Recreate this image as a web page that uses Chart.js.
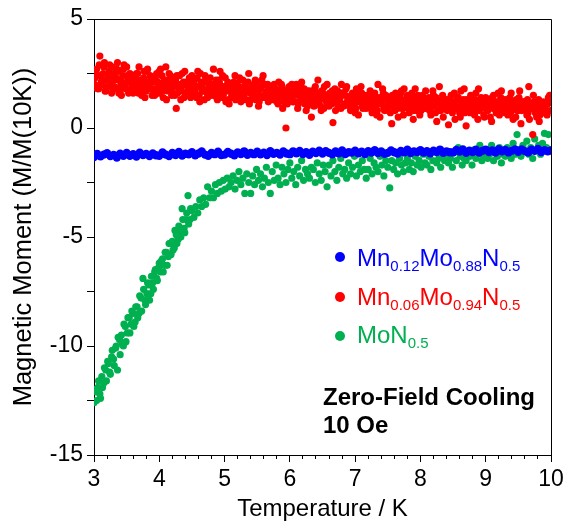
<!DOCTYPE html>
<html>
<head>
<meta charset="utf-8">
<script src="https://cdn.jsdelivr.net/npm/chart.js@4.4.1/dist/chart.umd.min.js"></script>
<style>
  html, body { margin: 0; padding: 0; background: #fff; }
  #wrap { position: relative; width: 565px; height: 529px; font-family: "Liberation Sans", Arial, sans-serif; }
  canvas { display: block; }
  .leg { position: absolute; left: 357px; font-size: 24px; line-height: 24px; white-space: nowrap; }
  .leg .s { font-size: 15px; vertical-align: -5px; line-height: 0; }
  .dot { position: absolute; left: 335px; width: 10px; height: 10px; border-radius: 50%; }
  .note { position: absolute; left: 323px; top: 383px; font-size: 24px; line-height: 28px; font-weight: bold; color: #000; white-space: nowrap; }
</style>
</head>
<body>
<div id="wrap">
  <canvas id="c" width="565" height="529"></canvas>
  <span class="dot" style="top:252px;background:#0000FF"></span>
  <div class="leg" style="top:246px;color:#0000FF">Mn<span class="s">0.12</span>Mo<span class="s">0.88</span>N<span class="s">0.5</span></div>
  <span class="dot" style="top:292px;background:#FF0000"></span>
  <div class="leg" style="top:285px;color:#FF0000">Mn<span class="s">0.06</span>Mo<span class="s">0.94</span>N<span class="s">0.5</span></div>
  <span class="dot" style="top:331px;background:#00B050"></span>
  <div class="leg" style="top:323px;color:#00B050">MoN<span class="s">0.5</span></div>
  <div class="note">Zero-Field Cooling<br>10 Oe</div>
</div>
<script>
// Temperature (K), three interleaved sweeps
const tempA = [
  3.00,3.03,3.06,3.09,3.12,3.15,3.18,3.21,3.24,3.27,
  3.30,3.33,3.36,3.39,3.42,3.45,3.48,3.51,3.54,3.57,
  3.60,3.63,3.66,3.69,3.72,3.75,3.78,3.81,3.84,3.87,
  3.90,3.93,3.96,3.99,4.02,4.05,4.08,4.11,4.14,4.17,
  4.20,4.23,4.26,4.29,4.32,4.35,4.38,4.41,4.44,4.47,
  4.50,4.53,4.56,4.59,4.62,4.65,4.68,4.71,4.74,4.77,
  4.80,4.83,4.86,4.89,4.92,4.95,4.98,5.01,5.04,5.07,
  5.10,5.13,5.16,5.19,5.22,5.25,5.28,5.31,5.34,5.37,
  5.40,5.43,5.46,5.49,5.52,5.55,5.58,5.61,5.64,5.67,
  5.70,5.73,5.76,5.79,5.82,5.85,5.88,5.91,5.94,5.97,
  6.00,6.03,6.06,6.09,6.12,6.15,6.18,6.21,6.24,6.27,
  6.30,6.33,6.36,6.39,6.42,6.45,6.48,6.51,6.54,6.57,
  6.60,6.63,6.66,6.69,6.72,6.75,6.78,6.81,6.84,6.87,
  6.90,6.93,6.96,6.99,7.02,7.05,7.08,7.11,7.14,7.17,
  7.20,7.23,7.26,7.29,7.32,7.35,7.38,7.41,7.44,7.47,
  7.50,7.53,7.56,7.59,7.62,7.65,7.68,7.71,7.74,7.77,
  7.80,7.83,7.86,7.89,7.92,7.95,7.98,8.01,8.04,8.07,
  8.10,8.13,8.16,8.19,8.22,8.25,8.28,8.31,8.34,8.37,
  8.40,8.43,8.46,8.49,8.52,8.55,8.58,8.61,8.64,8.67,
  8.70,8.73,8.76,8.79,8.82,8.85,8.88,8.91,8.94,8.97,
  9.00,9.03,9.06,9.09,9.12,9.15,9.18,9.21,9.24,9.27,
  9.30,9.33,9.36,9.39,9.42,9.45,9.48,9.51,9.54,9.57,
  9.60,9.63,9.66,9.69,9.72,9.75,9.78,9.81,9.84,9.87,
  9.90,9.93,9.96,9.99
];
const tempB = [
  3.01,3.04,3.07,3.10,3.13,3.16,3.19,3.22,3.25,3.28,
  3.31,3.34,3.37,3.40,3.43,3.46,3.49,3.52,3.55,3.58,
  3.61,3.64,3.67,3.70,3.73,3.76,3.79,3.82,3.85,3.88,
  3.91,3.94,3.97,4.00,4.03,4.06,4.09,4.12,4.15,4.18,
  4.21,4.24,4.27,4.30,4.33,4.36,4.39,4.42,4.45,4.48,
  4.51,4.54,4.57,4.60,4.63,4.66,4.69,4.72,4.75,4.78,
  4.81,4.84,4.87,4.90,4.93,4.96,4.99,5.02,5.05,5.08,
  5.11,5.14,5.17,5.20,5.23,5.26,5.29,5.32,5.35,5.38,
  5.41,5.44,5.47,5.50,5.53,5.56,5.59,5.62,5.65,5.68,
  5.71,5.74,5.77,5.80,5.83,5.86,5.89,5.92,5.95,5.98,
  6.01,6.04,6.07,6.10,6.13,6.16,6.19,6.22,6.25,6.28,
  6.31,6.34,6.37,6.40,6.43,6.46,6.49,6.52,6.55,6.58,
  6.61,6.64,6.67,6.70,6.73,6.76,6.79,6.82,6.85,6.88,
  6.91,6.94,6.97,7.00,7.03,7.06,7.09,7.12,7.15,7.18,
  7.21,7.24,7.27,7.30,7.33,7.36,7.39,7.42,7.45,7.48,
  7.51,7.54,7.57,7.60,7.63,7.66,7.69,7.72,7.75,7.78,
  7.81,7.84,7.87,7.90,7.93,7.96,7.99,8.02,8.05,8.08,
  8.11,8.14,8.17,8.20,8.23,8.26,8.29,8.32,8.35,8.38,
  8.41,8.44,8.47,8.50,8.53,8.56,8.59,8.62,8.65,8.68,
  8.71,8.74,8.77,8.80,8.83,8.86,8.89,8.92,8.95,8.98,
  9.01,9.04,9.07,9.10,9.13,9.16,9.19,9.22,9.25,9.28,
  9.31,9.34,9.37,9.40,9.43,9.46,9.49,9.52,9.55,9.58,
  9.61,9.64,9.67,9.70,9.73,9.76,9.79,9.82,9.85,9.88,
  9.91,9.94,9.97
];
const tempC = [
  3.02,3.05,3.08,3.11,3.14,3.17,3.20,3.23,3.26,3.29,
  3.32,3.35,3.38,3.41,3.44,3.47,3.50,3.53,3.56,3.59,
  3.62,3.65,3.68,3.71,3.74,3.77,3.80,3.83,3.86,3.89,
  3.92,3.95,3.98,4.01,4.04,4.07,4.10,4.13,4.16,4.19,
  4.22,4.25,4.28,4.31,4.34,4.37,4.40,4.43,4.46,4.49,
  4.52,4.55,4.58,4.61,4.64,4.67,4.70,4.73,4.76,4.79,
  4.82,4.85,4.88,4.91,4.94,4.97,5.00,5.03,5.06,5.09,
  5.12,5.15,5.18,5.21,5.24,5.27,5.30,5.33,5.36,5.39,
  5.42,5.45,5.48,5.51,5.54,5.57,5.60,5.63,5.66,5.69,
  5.72,5.75,5.78,5.81,5.84,5.87,5.90,5.93,5.96,5.99,
  6.02,6.05,6.08,6.11,6.14,6.17,6.20,6.23,6.26,6.29,
  6.32,6.35,6.38,6.41,6.44,6.47,6.50,6.53,6.56,6.59,
  6.62,6.65,6.68,6.71,6.74,6.77,6.80,6.83,6.86,6.89,
  6.92,6.95,6.98,7.01,7.04,7.07,7.10,7.13,7.16,7.19,
  7.22,7.25,7.28,7.31,7.34,7.37,7.40,7.43,7.46,7.49,
  7.52,7.55,7.58,7.61,7.64,7.67,7.70,7.73,7.76,7.79,
  7.82,7.85,7.88,7.91,7.94,7.97,8.00,8.03,8.06,8.09,
  8.12,8.15,8.18,8.21,8.24,8.27,8.30,8.33,8.36,8.39,
  8.42,8.45,8.48,8.51,8.54,8.57,8.60,8.63,8.66,8.69,
  8.72,8.75,8.78,8.81,8.84,8.87,8.90,8.93,8.96,8.99,
  9.02,9.05,9.08,9.11,9.14,9.17,9.20,9.23,9.26,9.29,
  9.32,9.35,9.38,9.41,9.44,9.47,9.50,9.53,9.56,9.59,
  9.62,9.65,9.68,9.71,9.74,9.77,9.80,9.83,9.86,9.89,
  9.92,9.95,9.98
];

// Temperature (K) for the blue series
const tempBlue = [
  3.00,3.05,3.10,3.15,3.20,3.25,3.30,3.35,3.40,3.45,
  3.50,3.55,3.60,3.65,3.70,3.75,3.80,3.85,3.90,3.95,
  4.00,4.05,4.10,4.15,4.20,4.25,4.30,4.35,4.40,4.45,
  4.50,4.55,4.60,4.65,4.70,4.75,4.80,4.85,4.90,4.95,
  5.00,5.05,5.10,5.15,5.20,5.25,5.30,5.35,5.40,5.45,
  5.50,5.55,5.60,5.65,5.70,5.75,5.80,5.85,5.90,5.95,
  6.00,6.05,6.10,6.15,6.20,6.25,6.30,6.35,6.40,6.45,
  6.50,6.55,6.60,6.65,6.70,6.75,6.80,6.85,6.90,6.95,
  7.00,7.05,7.10,7.15,7.20,7.25,7.30,7.35,7.40,7.45,
  7.50,7.55,7.60,7.65,7.70,7.75,7.80,7.85,7.90,7.95,
  8.00,8.05,8.10,8.15,8.20,8.25,8.30,8.35,8.40,8.45,
  8.50,8.55,8.60,8.65,8.70,8.75,8.80,8.85,8.90,8.95,
  9.00,9.05,9.10,9.15,9.20,9.25,9.30,9.35,9.40,9.45,
  9.50,9.55,9.60,9.65,9.70,9.75,9.80,9.85,9.90,9.95,
  10.00
];

// Mn0.12Mo0.88N0.5 (blue)
const momentBlue = [
  -1.33,-1.19,-1.30,-1.22,-1.16,-1.29,-1.24,-1.35,-1.18,-1.27,
  -1.15,-1.28,-1.20,-1.31,-1.13,-1.24,-1.19,-1.29,-1.17,-1.25,
  -1.27,-1.12,-1.22,-1.29,-1.15,-1.24,-1.10,-1.26,-1.18,-1.21,
  -1.11,-1.25,-1.17,-1.08,-1.22,-1.27,-1.14,-1.20,-1.09,-1.24,
  -1.22,-1.10,-1.18,-1.25,-1.12,-1.19,-1.07,-1.23,-1.15,-1.20,
  -1.09,-1.21,-1.13,-1.24,-1.06,-1.18,-1.14,-1.22,-1.08,-1.17,
  -1.20,-1.07,-1.16,-1.05,-1.19,-1.11,-1.23,-1.09,-1.15,-1.04,
  -1.17,-1.06,-1.14,-1.21,-1.08,-1.16,-1.03,-1.19,-1.11,-1.13,
  -1.04,-1.16,-1.09,-1.19,-1.06,-1.13,-1.02,-1.15,-1.08,-1.18,
  -1.14,-1.03,-1.11,-1.17,-1.05,-1.12,-1.00,-1.15,-1.07,-1.10,
  -1.02,-1.13,-1.06,-1.16,-1.04,-1.10,-0.99,-1.14,-1.07,-1.11,
  -1.12,-1.01,-1.08,-0.98,-1.14,-1.04,-1.10,-1.00,-1.13,-1.05,
  -0.99,-1.10,-1.03,-1.13,-0.97,-1.07,-1.01,-1.12,-1.04,-0.98,
  -1.09,-0.98,-1.06,-1.12,-1.00,-1.05,-0.96,-1.10,-1.02,-1.07,
  -1.03
];

// Mn0.06Mo0.94N0.5 (red), sweeps A, B, C
const momentRedA = [
  2.6,1.9,2.4,3.3,2.0,2.8,1.7,2.3,2.9,1.6,
  2.5,1.8,3.0,2.2,1.5,2.7,2.0,2.4,1.7,2.3,
  1.6,2.4,2.1,2.8,1.8,2.2,1.4,2.6,1.9,2.3,
  2.1,1.5,2.5,1.9,2.7,1.7,2.2,1.3,2.0,2.4,
  1.6,2.3,0.9,2.0,1.8,2.5,1.4,2.1,1.7,2.2,
  2.4,1.5,1.9,2.6,1.2,2.0,1.7,2.2,1.4,1.9,
  1.6,2.7,1.8,1.3,2.1,1.9,1.5,2.3,1.7,1.1,
  2.0,1.4,2.4,1.7,1.9,1.2,2.2,1.6,1.8,2.5,
  1.3,1.9,1.5,2.1,1.0,1.8,1.4,2.0,1.6,1.2,
  1.8,1.3,2.0,1.5,1.1,1.7,1.9,1.2,0.0,1.6,
  1.4,2.0,1.2,1.7,0.9,1.5,2.1,1.3,1.6,1.0,
  1.7,0.5,1.4,1.9,1.1,1.5,0.8,1.6,1.3,2.0,
  1.0,1.5,0.25,1.8,1.2,1.4,0.9,1.6,1.1,1.9,
  1.4,0.8,1.6,1.1,1.8,0.6,1.3,1.0,1.5,0.9,
  1.2,1.7,0.7,1.4,1.0,2.0,0.5,1.3,0.9,1.5,
  0.8,1.4,0.2,1.2,1.6,0.9,1.1,1.7,0.6,1.3,
  1.5,0.7,1.2,0.4,1.8,1.0,1.3,0.8,1.4,1.1,
  0.9,1.4,0.6,1.7,1.1,0.3,1.2,0.8,1.5,1.0,
  1.3,0.15,1.1,0.7,1.6,0.9,1.4,0.5,1.2,1.8,
  0.1,1.1,0.7,1.3,0.9,1.6,0.4,1.0,1.2,0.6,
  1.4,0.8,1.1,0.3,1.5,0.9,1.2,0.6,1.7,1.0,
  0.7,1.3,0.9,1.6,0.4,1.1,0.8,1.4,0.2,1.0,
  1.2,0.6,1.9,0.9,-0.3,1.1,0.5,1.3,0.8,1.0,
  0.7,1.1,1.4,0.8
];
const momentRedB = [
  2.0,2.7,1.8,2.4,2.2,3.0,1.9,2.5,2.1,2.8,
  1.9,2.3,2.6,1.7,2.1,2.9,1.8,2.2,2.5,2.0,
  2.2,1.7,2.5,2.0,1.5,2.3,1.9,2.7,1.8,2.1,
  1.8,2.3,1.6,2.6,2.0,1.4,2.2,1.9,2.5,1.7,
  2.1,1.5,2.4,1.8,1.3,2.0,2.6,1.6,1.9,1.4,
  1.6,2.2,1.4,1.9,2.5,1.7,1.3,2.1,1.8,2.3,
  2.0,1.5,2.2,1.7,2.6,1.4,1.9,1.2,2.1,1.8,
  1.5,2.1,1.3,1.8,2.3,1.6,1.4,2.0,1.7,1.1,
  1.8,1.4,2.2,1.6,1.2,1.9,2.4,1.5,1.7,1.3,
  1.4,1.9,1.6,1.2,2.1,1.5,0.9,1.7,1.3,1.8,
  1.7,1.2,1.5,2.0,1.1,1.6,1.3,1.8,0.8,1.4,
  1.2,1.6,1.0,1.4,2.2,1.3,1.7,0.9,1.5,1.1,
  1.6,1.1,1.4,0.8,1.7,1.3,2.0,1.0,1.5,1.2,
  1.0,1.5,1.3,0.7,1.6,1.2,1.9,0.9,1.4,1.1,
  1.4,0.9,1.2,1.6,0.6,1.3,1.1,1.8,0.8,1.0,
  1.2,0.7,1.5,1.0,1.3,0.5,1.4,0.9,1.8,1.1,
  0.9,1.3,1.6,0.8,1.1,1.5,0.6,1.2,1.0,1.7,
  1.3,0.8,1.1,1.5,0.7,1.2,1.9,1.0,0.5,1.3,
  0.8,1.2,1.5,1.0,0.4,1.3,0.9,1.7,1.1,0.7,
  1.3,0.8,1.5,1.0,0.6,1.2,1.8,0.9,1.1,0.5,
  0.9,1.2,0.5,1.4,1.0,0.7,1.6,1.1,0.8,1.3,
  1.1,0.6,1.4,0.9,1.2,0.5,1.0,1.7,0.8,1.2,
  0.8,1.3,0.4,1.0,1.5,0.7,1.1,0.3,0.9,1.2,
  1.0,0.6,1.3
];
const momentRedC = [
  2.3,1.8,2.9,2.1,2.5,1.7,2.2,2.6,1.9,2.4,
  2.2,2.7,1.6,2.0,2.4,1.9,2.8,1.6,2.1,1.9,
  1.9,2.5,1.6,2.2,2.0,2.6,1.7,2.1,2.4,1.5,
  2.3,1.8,2.1,1.6,2.4,1.9,2.8,1.7,2.2,1.5,
  1.9,2.2,1.6,2.4,1.7,2.1,1.5,1.9,2.3,1.8,
  2.0,1.7,2.3,1.5,2.1,1.8,2.4,1.6,2.0,1.5,
  1.8,2.0,1.4,2.2,1.6,2.4,1.7,1.9,1.3,2.0,
  1.8,1.6,2.0,1.4,2.2,1.7,1.9,1.3,2.1,1.6,
  1.7,2.0,1.3,1.8,1.5,2.2,1.4,1.6,2.0,1.5,
  1.6,1.4,1.8,1.3,1.7,2.0,1.4,1.6,1.1,1.9,
  1.3,1.6,1.8,1.2,1.5,1.9,1.4,1.1,1.7,1.5,
  1.5,1.2,1.8,1.3,1.6,1.0,1.4,1.9,1.2,1.5,
  1.3,1.7,1.2,1.5,1.0,1.4,1.6,1.1,1.8,1.3,
  1.3,1.1,1.5,0.9,1.4,1.2,1.6,1.0,1.3,1.5,
  1.0,1.3,1.5,1.1,0.8,1.4,1.2,1.6,1.0,1.3,
  1.3,1.0,1.2,0.8,1.4,1.1,1.6,0.9,1.2,1.0,
  1.2,1.0,1.4,1.1,0.8,1.3,1.0,1.5,0.9,1.2,
  1.1,0.9,1.3,1.0,1.4,0.8,1.1,1.3,0.9,1.2,
  1.0,1.3,0.8,1.2,1.0,1.4,0.7,1.1,1.3,0.9,
  1.1,0.9,1.2,0.7,1.3,1.0,0.8,1.4,1.0,1.2,
  0.8,1.1,1.3,0.9,1.2,0.7,1.0,1.4,0.9,1.1,
  1.0,1.2,0.7,1.1,0.9,1.3,0.8,1.0,1.2,0.9,
  1.0,0.7,1.1,0.9,1.2,0.8,1.0,0.6,1.1,0.9,
  0.8,1.1,1.5
];

// MoN0.5 (green): full sweep A, plus sweep B below 4.5 K
const momentGreenA = [
  -12.6,-12.1,-11.9,-12.2,-11.4,-11.7,-11.1,-10.7,-11.2,-10.5,
  -10.6,-10.1,-11.1,-9.7,-9.5,-10.0,-9.1,-9.4,-8.7,-9.0,
  -8.5,-8.9,-8.2,-8.5,-7.8,-6.9,-7.9,-7.6,-7.2,-7.6,
  -7.1,-6.6,-6.9,-6.4,-6.6,-6.0,-6.3,-5.7,-5.9,-5.3,
  -5.2,-5.5,-4.9,-5.1,-4.7,-3.7,-4.6,-4.2,-3.1,-4.2,
  -3.8,-4.1,-3.6,-3.9,-3.3,-3.6,-3.2,-3.5,-2.7,-3.2,
  -2.9,-3.2,-2.6,-3.0,-2.5,-2.9,-2.4,-2.8,-2.3,-2.7,
  -2.5,-2.2,-2.8,-2.4,-2.0,-2.6,-2.3,-3.0,-2.1,-2.5,
  -3.0,-2.2,-2.6,-1.9,-2.4,-2.1,-2.7,-2.3,-1.8,-2.5,
  -3.0,-2.0,-2.4,-1.7,-2.3,-2.6,-1.8,-2.1,-2.5,-1.9,
  -1.6,-2.3,-2.0,-2.6,-1.8,-2.2,-1.5,-2.4,-1.9,-2.1,
  -2.3,-1.8,-1.9,-2.5,-1.6,-2.1,-2.4,-1.7,-2.0,-2.7,
  -1.7,-2.2,-1.5,-2.0,-2.4,-1.8,-1.4,-2.1,-1.9,-2.3,
  -1.6,-2.1,-1.8,-1.3,-2.2,-1.7,-2.0,-1.5,-1.9,-2.3,
  -1.9,-1.4,-2.1,-1.6,-1.8,-2.0,-1.3,-1.7,-2.2,-1.5,
  -1.8,-2.75,-1.5,-1.9,-1.6,-2.1,-1.4,-1.7,-2.0,-1.6,
  -1.4,-1.9,-1.6,-2.0,-1.3,-1.7,-1.5,-1.8,-1.2,-1.6,
  -1.7,-1.3,-1.9,-1.5,-1.1,-1.6,-1.4,-1.8,-1.3,-1.5,
  -1.2,-1.6,-1.4,-1.8,-1.1,-1.5,-0.9,-1.3,-1.7,-1.4,
  -1.5,-1.1,-1.3,-1.7,-1.0,-1.4,-1.2,-0.8,-1.5,-1.3,
  -1.0,-1.4,-1.2,-0.8,-1.5,-1.1,-1.3,-0.9,-1.6,-1.2,
  -1.3,-0.9,-1.1,-1.4,-0.7,-1.2,-0.3,-1.0,-1.3,-0.8,
  -1.1,-0.6,-1.2,-0.9,-1.4,-0.5,-1.0,-0.8,-1.2,-0.7,
  -0.25,-0.9,-0.3,-1.0
];
const momentGreenB = [
  -12.0,-12.5,-11.6,-12.4,-11.9,-11.0,-11.6,-10.8,-11.3,-10.2,
  -10.9,-10.0,-9.6,-10.4,-9.9,-9.0,-9.8,-8.7,-9.4,-8.4,
  -9.1,-8.2,-8.7,-7.7,-8.4,-7.4,-8.1,-7.1,-7.9,-6.8,
  -7.4,-6.5,-7.0,-6.2,-6.1,-6.6,-5.7,-6.3,-5.3,-5.8,
  -5.6,-4.7,-5.3,-4.5,-5.0,-4.2,-4.8,-3.9,-4.4,-3.7
];

// Axis settings
const xRange = [3, 10];
const yRange = [-15, 5];
const xTitle = 'Temperature / K';
const yTitle = 'Magnetic Moment (M/M(10K))';
const seriesNames = ['Mn0.12Mo0.88N0.5', 'Mn0.06Mo0.94N0.5', 'MoN0.5'];

const FONT = '"Liberation Sans", Arial, sans-serif';
const toXY = (xs, ys) => ys.map((y, i) => ({ x: xs[i], y: y }));

const frame = {
  id: 'frame',
  afterDraw(chart) {
    const { ctx, chartArea: a } = chart;
    ctx.save();
    ctx.strokeStyle = '#000';
    ctx.lineWidth = 1;
    ctx.beginPath();
    ctx.moveTo(Math.round(a.left) + 0.5, Math.round(a.top) + 0.5);
    ctx.lineTo(Math.round(a.right) + 0.5, Math.round(a.top) + 0.5);
    ctx.lineTo(Math.round(a.right) + 0.5, Math.round(a.bottom) + 0.5);
    ctx.stroke();
    ctx.restore();
  }
};

const pt = { borderWidth: 0, pointRadius: 3.6, xAxisID: 'x', yAxisID: 'y' };

new Chart(document.getElementById('c'), {
  type: 'scatter',
  data: {
    datasets: [
      Object.assign({}, pt, { label: seriesNames[0], data: toXY(tempBlue, momentBlue), backgroundColor: '#0000FF', pointRadius: 4.2 }),
      Object.assign({}, pt, { label: seriesNames[1], data: toXY(tempA, momentRedA).concat(toXY(tempB, momentRedB), toXY(tempC, momentRedC)), backgroundColor: '#FF0000' }),
      Object.assign({}, pt, { label: seriesNames[2], data: toXY(tempA, momentGreenA).concat(toXY(tempB, momentGreenB)), backgroundColor: '#00B050' })
    ]
  },
  options: {
    responsive: false,
    animation: false,
    events: [],
    layout: { padding: { left: 0, top: 19, right: 14, bottom: 0 } },
    plugins: { legend: { display: false }, tooltip: { enabled: false } },
    scales: {
      x: {
        type: 'linear', position: 'bottom', min: xRange[0], max: xRange[1], weight: 1,
        ticks: { stepSize: 1, color: '#000', font: { family: FONT, size: 23 }, padding: 4, maxRotation: 0, autoSkip: false },
        grid: { drawOnChartArea: false, tickLength: 7, color: '#000' },
        border: { color: '#000', width: 1 },
        title: { display: true, text: xTitle, color: '#000', font: { family: FONT, size: 24 }, padding: { top: 0, bottom: 5 } },
        afterFit(s) { s.height = 74; s.paddingLeft = 0; s.paddingRight = 0; }
      },
      xMinor: {
        type: 'linear', axis: 'x', position: 'bottom', min: xRange[0], max: xRange[1], weight: 0,
        ticks: { stepSize: 0.2, display: false, autoSkip: false },
        grid: { drawOnChartArea: false, tickLength: 4, color: '#000' },
        border: { display: false },
        afterFit(s) { s.height = 0; s.paddingLeft = 0; s.paddingRight = 0; }
      },
      y: {
        type: 'linear', position: 'left', min: yRange[0], max: yRange[1],
        ticks: { stepSize: 2.5, color: '#000', font: { family: FONT, size: 23 }, padding: 4,
                 callback: v => (Math.abs(v % 5) < 1e-9 ? String(v) : '') },
        grid: { drawOnChartArea: false, tickLength: 7, color: '#000' },
        border: { color: '#000', width: 1 },
        title: { display: true, text: yTitle, color: '#000', font: { family: FONT, size: 25.5 }, padding: { top: 9, bottom: 0 } },
        afterFit(s) { s.width = 94; }
      }
    }
  },
  plugins: [frame]
});
</script>
</body>
</html>
